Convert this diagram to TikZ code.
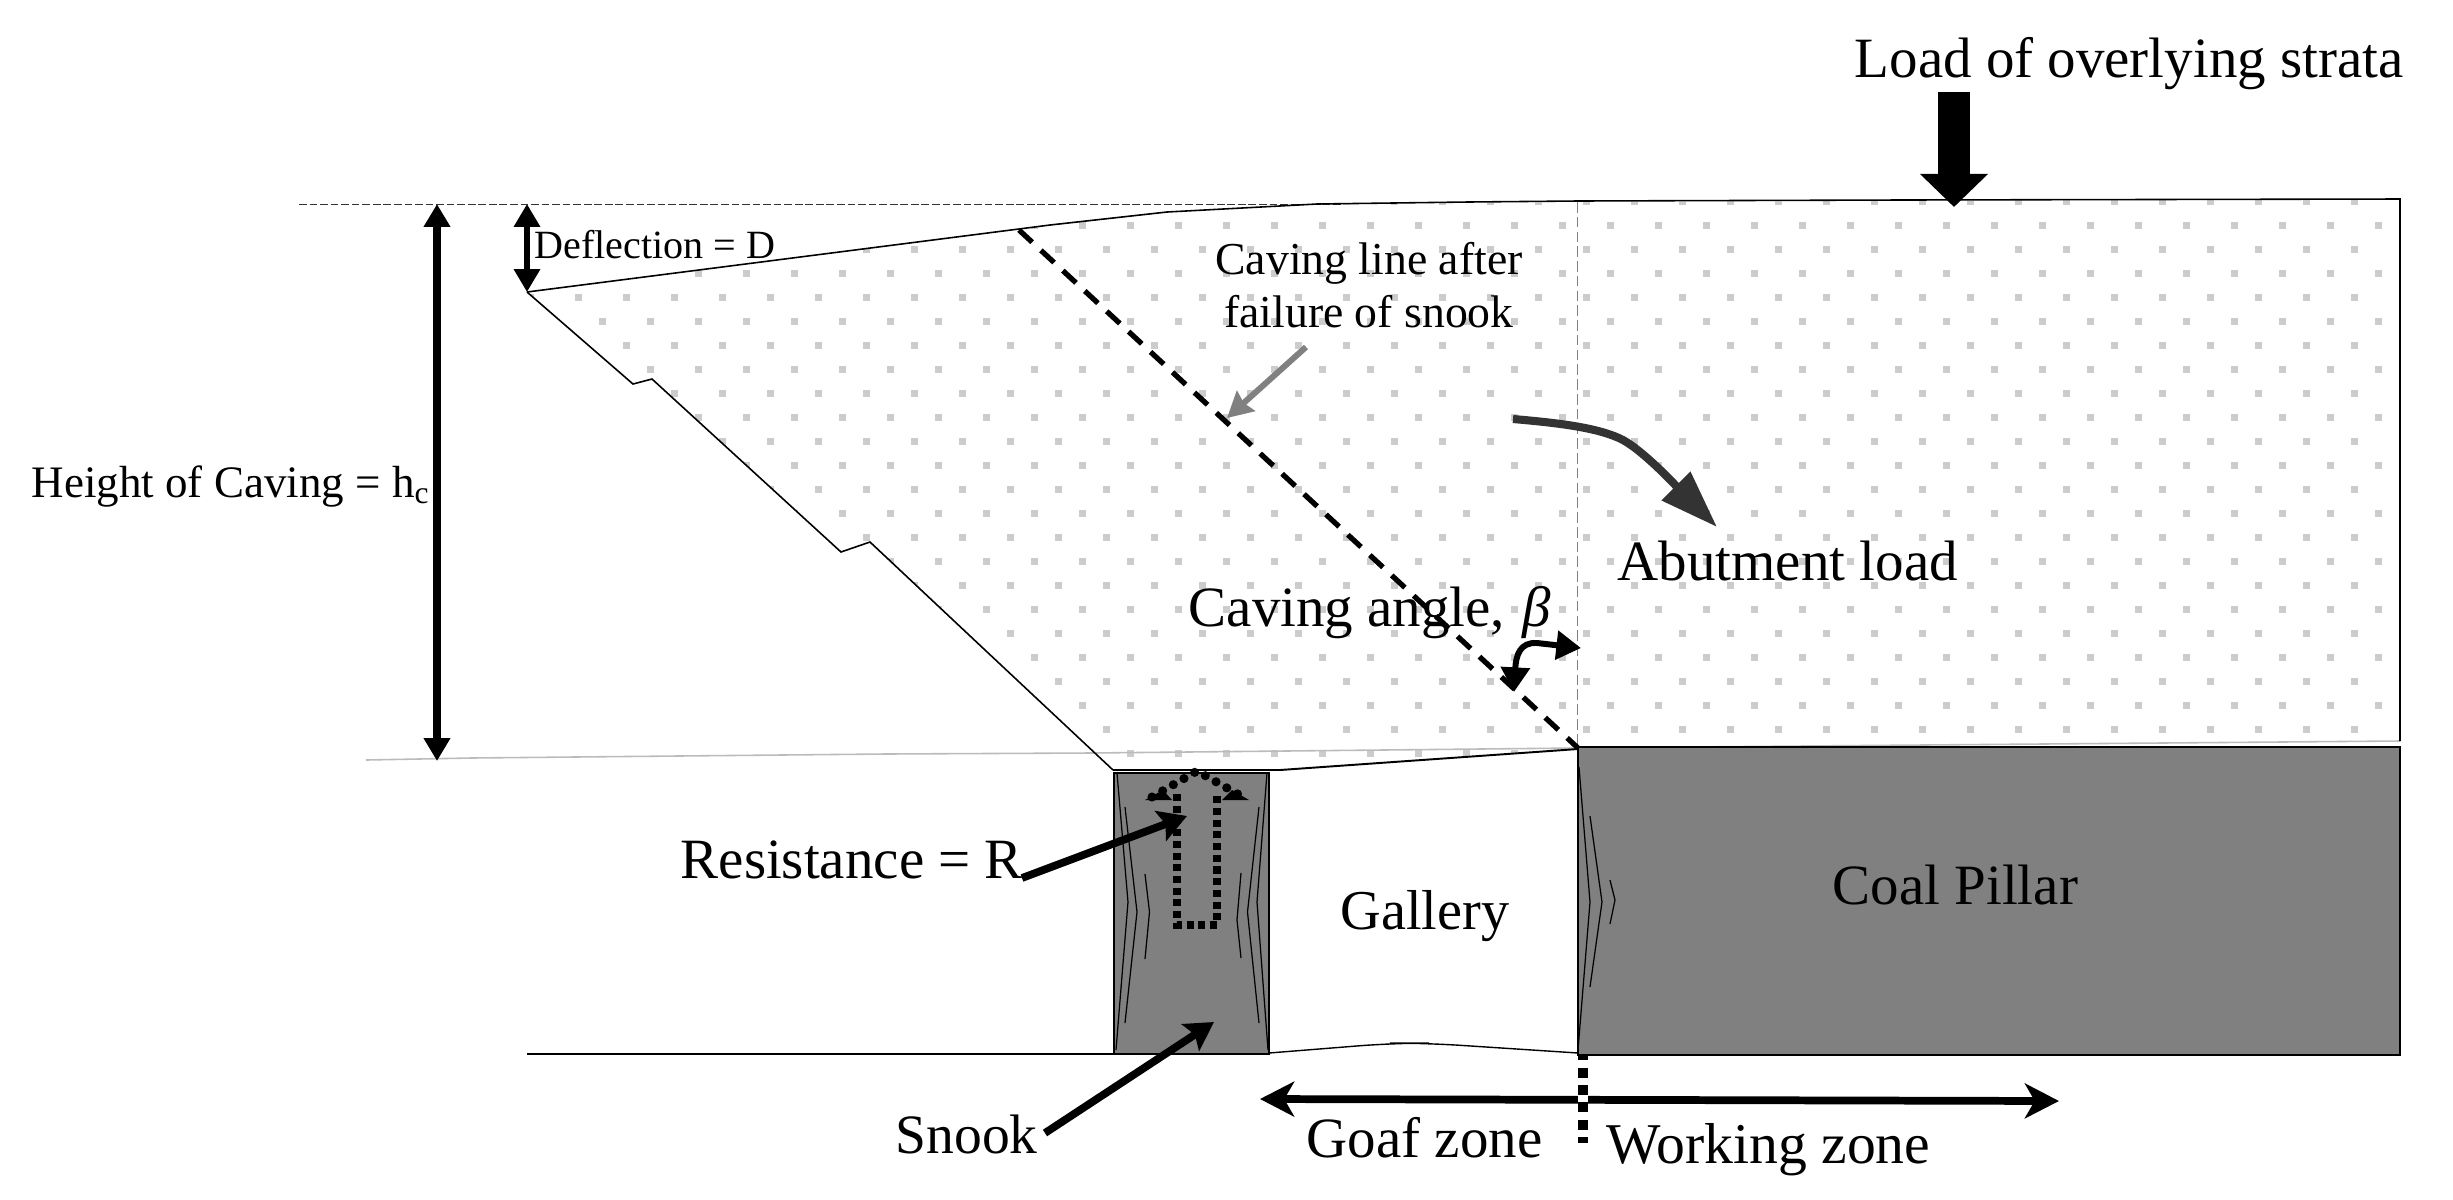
\documentclass[tikz,border=0pt]{standalone}
\usepackage{fontspec}
\setmainfont{Liberation Serif}
\usetikzlibrary{arrows.meta}
\definecolor{coal}{HTML}{808080}
\definecolor{speck}{HTML}{CCCCCC}
\definecolor{strata}{HTML}{BBBBBB}
\definecolor{abut}{HTML}{333333}
\tikzset{
  lab/.style={inner sep=0pt,anchor=base west,font=\fontsize{16.2}{18}\selectfont},
  labm/.style={lab,font=\fontsize{12.8}{15}\selectfont},
  labs/.style={lab,font=\fontsize{11.4}{13}\selectfont},
  thin line/.style={line width=0.45pt,black},
  crack/.style={line width=0.35pt,black},
  block/.style={fill=coal,draw=black,line width=0.55pt},
  dim/.style={line width=2pt,{Triangle[length=6.5pt,width=7.2pt]}-{Triangle[length=6.5pt,width=7.2pt]}},
  pointer/.style={line width=2.2pt,-{Stealth[length=8pt,width=9pt,inset=1.5pt]}},
  zone/.style={line width=2.2pt,{Stealth[length=9.7pt,width=9.9pt,inset=2.8pt]}-{Stealth[length=9.7pt,width=9.9pt,inset=2.8pt]}},
}
\begin{document}
\begin{tikzpicture}[x=0.01cm,y=-0.01cm]
\useasboundingbox (0,0) rectangle (2453,1199);

% speckle of the strata
\begin{scope}
  \clip (527,292) -- (1050,225) -- (1167,212) -- (1317,204) -- (1573,202) -- (2400,199)
    -- (2400,741) -- (1578,748) -- (1280,770) -- (1113,770) -- (985,650) -- (870,542)
    -- (841,552) -- (652,379) -- (633,384) -- cycle;
  \foreach \yy in {201,249,...,729}
    \foreach \xx in {482,530,...,2402}
      \fill[speck] (\xx-3.5,\yy-3.5) rectangle ++(7,7);
  \foreach \yy in {225,273,...,753}
    \foreach \xx in {506,554,...,2402}
      \fill[speck] (\xx-3.5,\yy-3.5) rectangle ++(7,7);
\end{scope}

% strata lines
\draw[line width=0.45pt,strata] (366,760) -- (471,758) -- (885,754) -- (1090,753) -- (1578,748) -- (1804,746) -- (2400,741);
\draw[line width=0.25pt,dash pattern=on 3pt off 1.2pt,black!50] (1577,202) -- (1577,748);
\draw[line width=0.25pt,dash pattern=on 2.2pt off 0.8pt,black!80] (299,204) -- (1343,204);
\draw[thin line] (527,292) -- (1050,225) -- (1167,212) -- (1317,204) -- (1468,202) -- (1577,201)
  -- (1900,200) -- (2400,199) -- (2400,741);
\draw[thin line] (527,292) -- (633,384) -- (652,379) -- (841,552) -- (870,542) -- (985,650) -- (1113,770);
\draw[line width=0.55pt] (1113,770) -- (1280,770) -- (1578,749);
\draw[line width=0.4pt] (527,1054) -- (1114,1054);
\draw[line width=0.4pt,rounded corners=10pt] (1269,1053) -- (1394,1043) -- (1425,1043) -- (1578,1053);

% snook and pillar
\draw[block] (1114,773) rectangle (1269,1054);
\draw[block] (1578,747) rectangle (2400,1055);
\draw[crack] (1117,773) -- (1128,902) -- (1116,1050);
\draw[crack] (1125,807) -- (1137,912) -- (1125,1023);
\draw[crack] (1145,874) -- (1149.5,912) -- (1145,959);
\draw[crack] (1267,773) -- (1257,902) -- (1268,1050);
\draw[crack] (1259,807) -- (1247.5,912) -- (1259,1023);
\draw[crack] (1241,873) -- (1237,920) -- (1241,958);
\draw[crack] (1579,767) -- (1590,902) -- (1578,1050);
\draw[crack] (1590,816) -- (1602,902) -- (1590,987);
\draw[crack] (1610,880) -- (1615,900) -- (1610,924);

% caving line
\coordinate (cavetop) at (1019,230);
\coordinate (cavefoot) at (1578,748);
\draw[line width=1.5pt,dash pattern=on 5.1pt off 3.4pt] (cavetop) -- (cavefoot);

% resistance outline arrow
\draw[line width=2.2pt,dash pattern=on 2pt off 1.33pt] (1177,794) -- (1177,925) -- (1217,925) -- (1217,794);
\draw[line width=2.6pt,line cap=round,dash pattern=on 0pt off 3.5pt] (1152,797) -- (1197,771) -- (1243,797);
\fill (1145,800) -- (1163,790) -- (1172,800) -- cycle;
\fill (1249,800) -- (1232,790) -- (1222,800) -- cycle;

% labels
\node[lab] (load) at (1854,77) {Load of overlying strata};
\node[labs] (defl) at (534,258) {Deflection = D};
\node[labm] (hcav) at (31,497) {Height of Caving = h\textsubscript{c}};
\node[inner sep=0pt,align=center,font=\fontsize{13}{15.1}\selectfont] (cline) at (1369,285) {Caving line after\\failure of snook};
\node[lab] (abl) at (1617,580) {Abutment load};
\node[lab] (cang) at (1188,626) {Caving angle, \hspace{1pt}\textit{β}};
\node[lab] (res) at (680,878) {Resistance = R};
\node[lab,font=\fontsize{16}{18}\selectfont] (gal) at (1340,929) {Gallery};
\node[lab] (pil) at (1832,904) {Coal Pillar};
\node[lab,font=\fontsize{15.8}{18}\selectfont] (sno) at (895,1153) {Snook};
\node[lab] (goaf) at (1306,1157) {Goaf zone};
\node[lab,font=\fontsize{16.4}{19}\selectfont] (work) at (1606,1163) {Working zone};

% arrows
\coordinate (hctop) at (437,204);
\coordinate (hcbot) at (437,761);
\draw[dim] (hctop) -- (hcbot);
\coordinate (dtop) at (527,204);
\coordinate (dbot) at (527,292);
\draw[dim,line width=1.5pt] (dtop) -- (dbot);
\coordinate (loadtop) at (1954,92);
\coordinate (loadtip) at (1954,207);
\draw[line width=9.1pt,-{Triangle[length=9.4pt,width=18.8pt]}] (loadtop) -- (loadtip);
\coordinate (greyfrom) at (1306,347);
\coordinate (greyto) at (1227,418);
\draw[coal,line width=1.7pt,-{Stealth[length=7.2pt,width=7.6pt,inset=0.8pt]}] (greyfrom) -- (greyto);
\coordinate (abfrom) at (1513,419);
\coordinate (abto) at (1717,527);
\draw[abut,line width=2.3pt,-{Triangle[length=16.5pt,width=11pt]}] (abfrom) .. controls (1560,423) and (1600,428) .. (1623,440) .. controls (1645,452) and (1680,490) .. (abto);
\coordinate (betaa) at (1514,692);
\coordinate (betab) at (1581,648);
\draw[line width=1.7pt,{Triangle[length=7pt,width=8pt]}-{Triangle[length=7pt,width=8pt]}] (betaa) .. controls (1516,655) and (1520,642) .. (1537,643) -- (betab);
\coordinate (resfrom) at (1022,878);
\coordinate (resto) at (1187,816);
\draw[pointer] (resfrom) -- (resto);
\coordinate (snofrom) at (1045,1133);
\coordinate (snoto) at (1214,1022);
\draw[pointer] (snofrom) -- (snoto);
\coordinate (zonel) at (1260,1099);
\coordinate (zoner) at (2059,1101);
\draw[zone] (zonel) -- (zoner);

% zone divider
\coordinate (divtop) at (1583,1055);
\coordinate (divbot) at (1583,1143);
\draw[white,line width=3pt] (divtop) -- (divbot);
\draw[line width=2.9pt,dash pattern=on 2.85pt off 2.1pt,dash phase=1.4pt] (divtop) -- (divbot);
\end{tikzpicture}
\end{document}
